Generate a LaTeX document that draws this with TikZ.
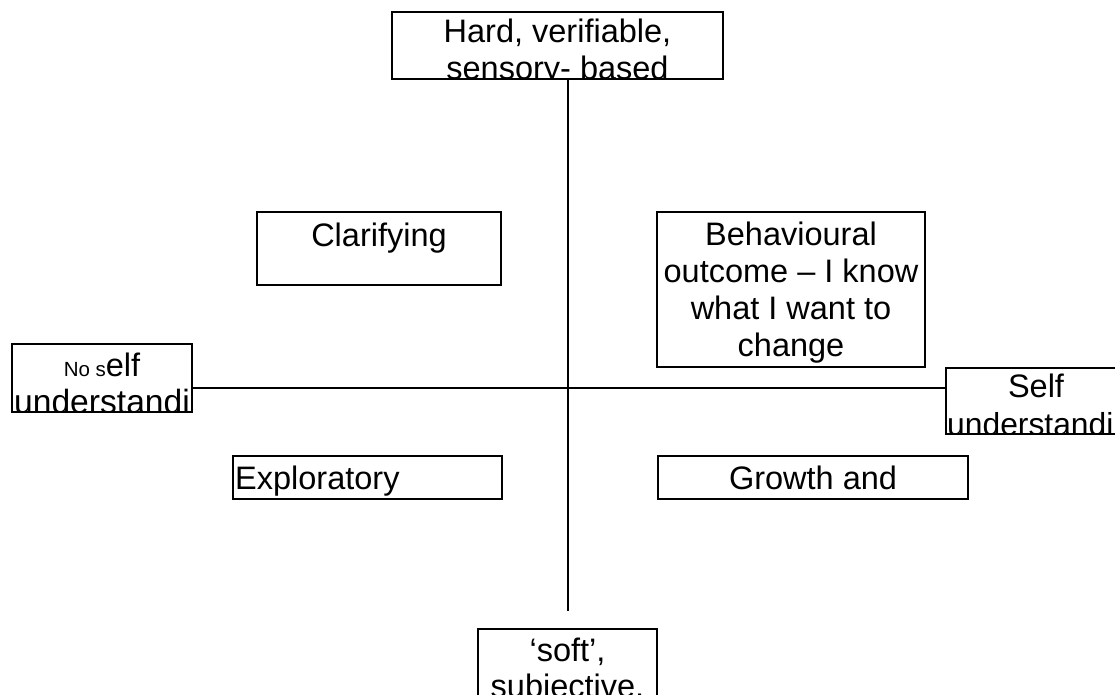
\documentclass[tikz,border=0pt]{standalone}
\usepackage{fontspec}
\setmainfont{Liberation Sans}
\newcommand{\bigtxt}{\fontsize{32.5}{37}\selectfont}
\newcommand{\widetxt}{\fontsize{33.6}{37}\selectfont}
\newcommand{\edgetxt}{\fontsize{31.8}{37}\selectfont}
\newcommand{\smalltxt}{\fontsize{20.5}{24}\selectfont}
\begin{document}
\begin{tikzpicture}[x=1pt,y=-1pt,
  box/.style={draw, line width=1.8pt, inner sep=0pt, fill=none},
  lbl/.style={font=\bigtxt, anchor=base, inner sep=0pt},
  axis/.style={line width=1.8pt}]
\clip (0,0) rectangle (1115,695);
\fill[white] (0,0) rectangle (1115,695);
% boxes
\node[box, minimum width=331pt, minimum height=67pt] (top) at (557.5,45.5) {};
\node[box, minimum width=244pt, minimum height=73pt] (clar) at (379,248.5) {};
\node[box, minimum width=268pt, minimum height=155pt] (beh) at (791,289.5) {};
\node[box, minimum width=180pt, minimum height=68pt] (noself) at (102,378) {};
\node[box, minimum width=180pt, minimum height=66pt] (self) at (1036,401) {};
\node[box, minimum width=269pt, minimum height=43pt] (expl) at (367.5,477.5) {};
\node[box, minimum width=310pt, minimum height=43pt] (growth) at (813,477.5) {};
\node[box, minimum width=179pt, minimum height=91pt] (bot) at (567.5,674.5) {};
% axes
\coordinate (vx) at (568,0);
\coordinate (hy) at (0,388);
\coordinate (vend) at (568,611);
\draw[axis] (top.south -| vx) -- (vend);
\draw[axis] (noself.east |- hy) -- (self.west |- hy);
% texts (clipped to their boxes)
\begin{scope}
\clip (top.south west) rectangle (top.north east);
\node[lbl] (t1) at (557.5,43) {Hard, verifiable,};
\node[lbl] (t2) at (557.5,80) {sensory- based};
\end{scope}
\begin{scope}
\clip (clar.south west) rectangle (clar.north east);
\node[lbl] (c1) at (379,246) {Clarifying};
\end{scope}
\begin{scope}
\clip (beh.south west) rectangle (beh.north east);
\node[lbl] (b1) at (791,245) {Behavioural};
\node[lbl] (b2) at (791,282) {outcome -- I know};
\node[lbl] (b3) at (791,319) {what I want to};
\node[lbl] (b4) at (791,356) {change};
\end{scope}
\begin{scope}
\clip (noself.south west) rectangle (noself.north east);
\node[lbl] (n1) at (102,376) {{\smalltxt No s}elf};
\node[lbl, font=\widetxt] (n2) at (102,413) {understandi};
\end{scope}
\begin{scope}
\clip (self.south west) rectangle (self.north east);
\node[lbl] (s1) at (1036,397) {Self};
\node[lbl, font=\edgetxt, anchor=base west] (s2) at (947,435) {understandi};
\end{scope}
\begin{scope}
\clip (expl.south west) rectangle (expl.north east);
\node[lbl, anchor=base west] (e1) at (235,489) {Exploratory};
\end{scope}
\begin{scope}
\clip (growth.south west) rectangle (growth.north east);
\node[lbl] (g1) at (813,489) {Growth and};
\end{scope}
\begin{scope}
\clip (bot.south west) rectangle (bot.north east);
\node[lbl] (o1) at (567.5,661) {`soft',};
\node[lbl] (o2) at (567.5,697) {subjective,};
\end{scope}
\end{tikzpicture}
\end{document}
